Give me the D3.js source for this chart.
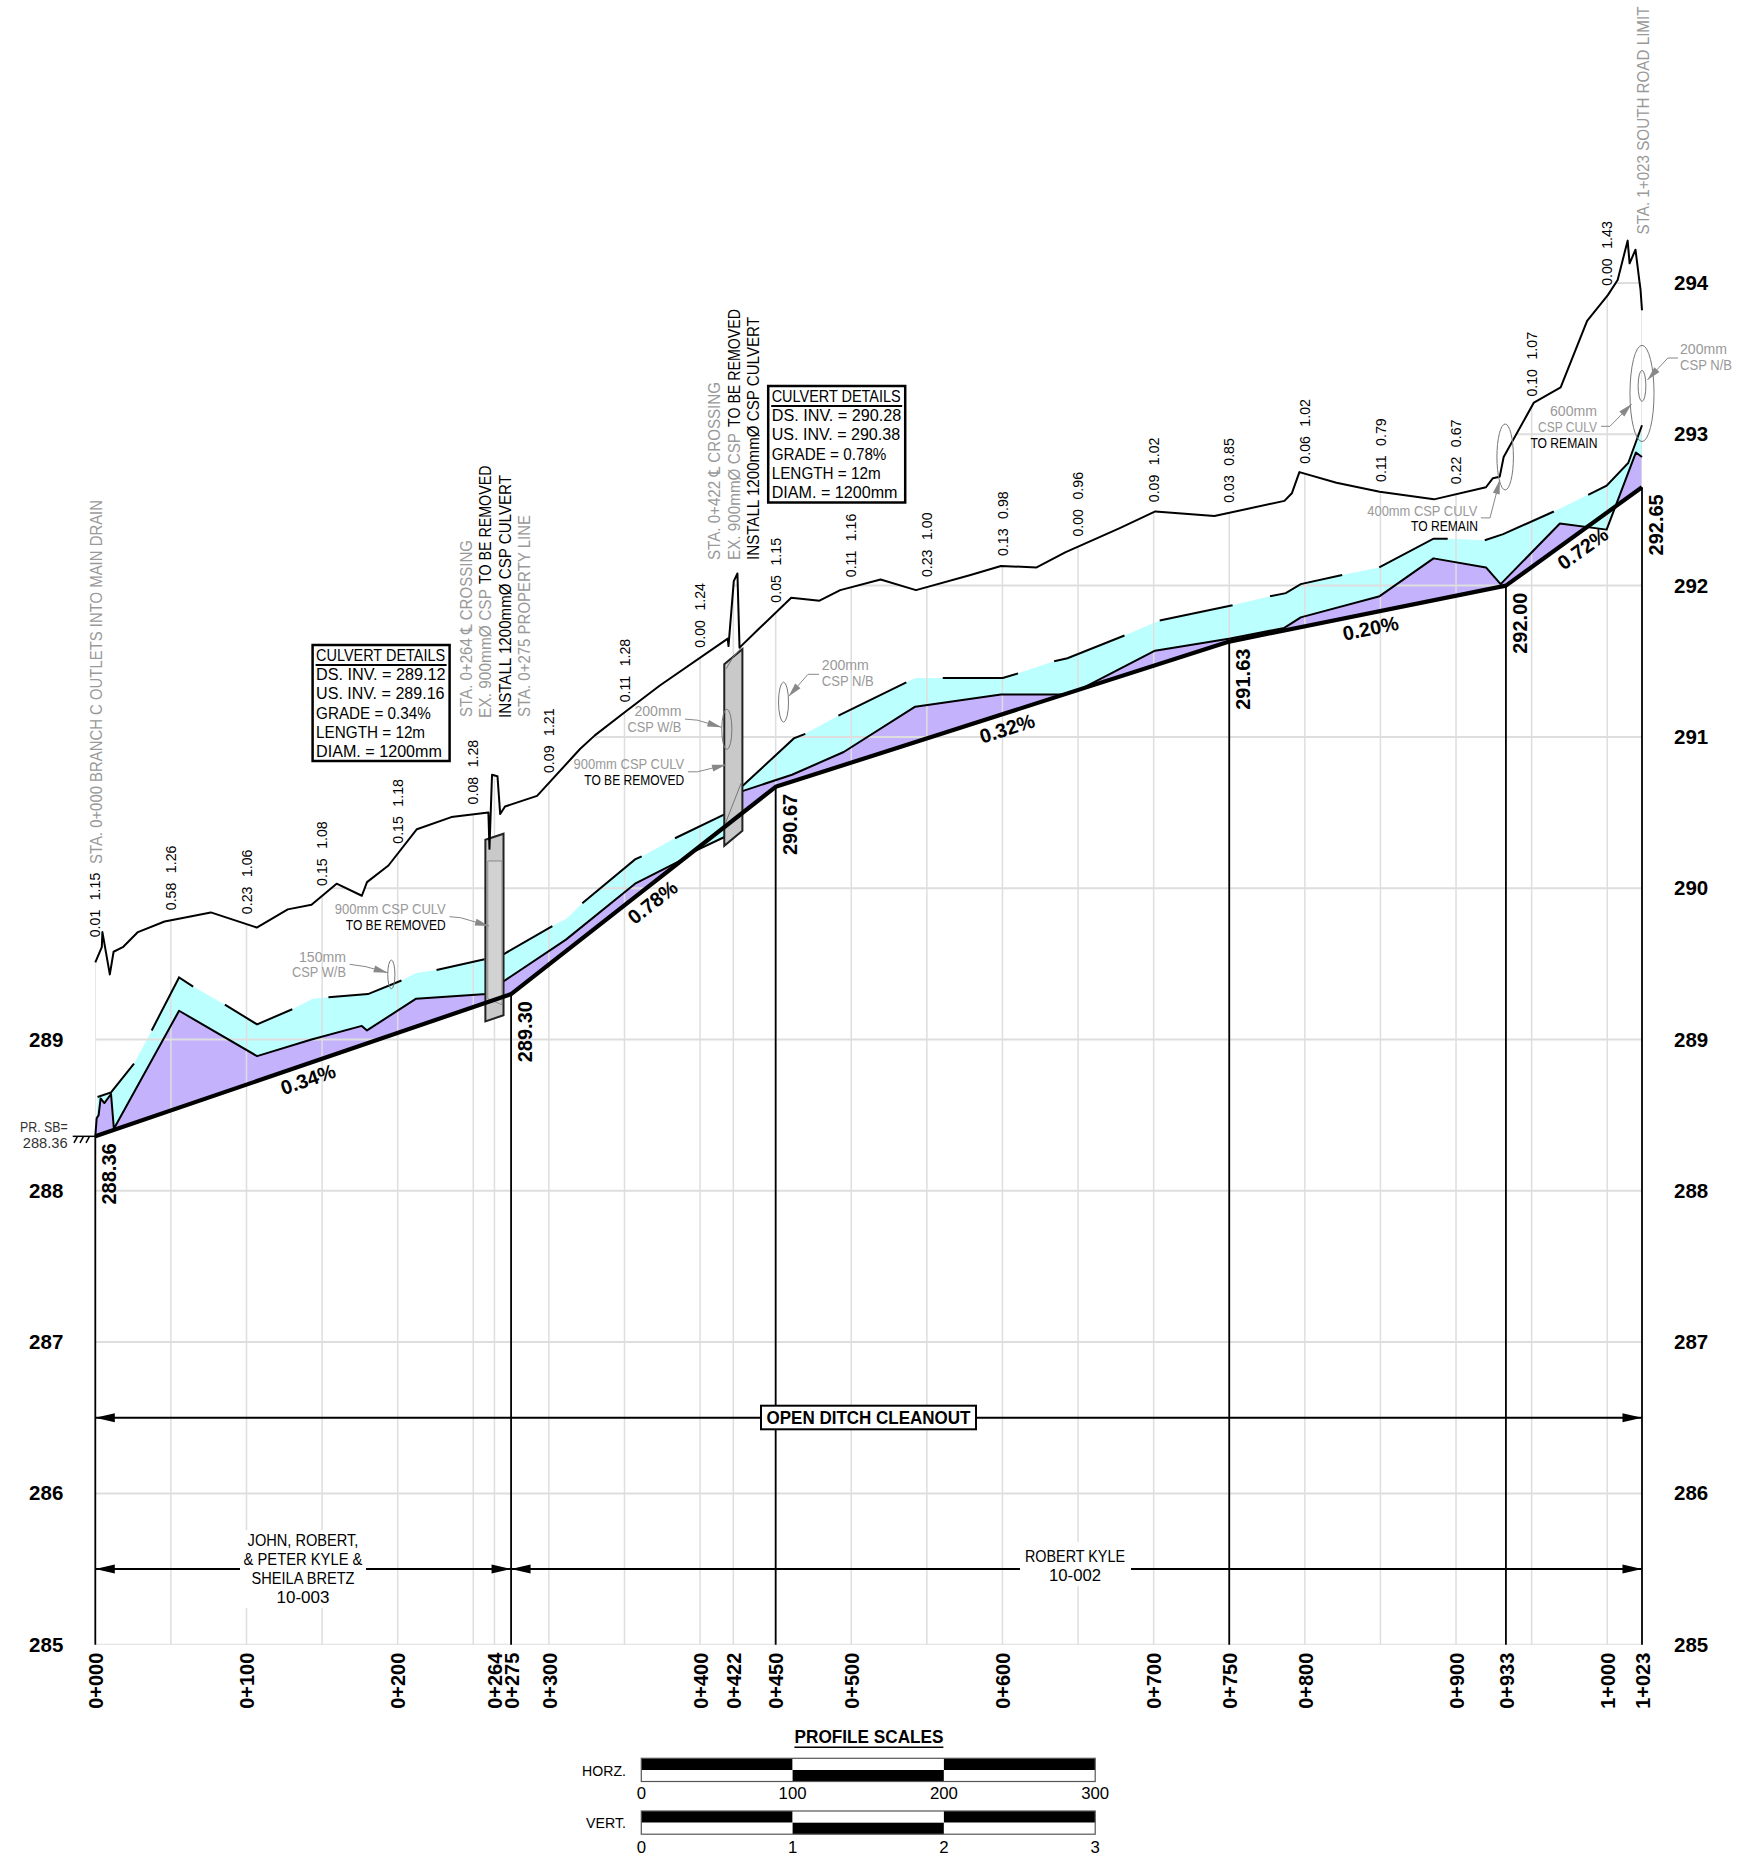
<!doctype html>
<html lang="en">
<head>
  <meta charset="utf-8">
  <title>Open ditch profile</title>
  <style>
  html, body { margin: 0; padding: 0; background: #fff; }
  svg { display: block; }
  text { font-family: "Liberation Sans", "DejaVu Sans", sans-serif; }
  .grid { stroke: #dedede; fill: none; }
  .axis text { font-size: 20.5px; font-weight: bold; fill: #000; }
  </style>
</head>
<body>
  <div id="chart"></div>
  <script src="https://d3js.org/d3.v7.min.js"></script>
  <script>
// all profile data is [station (m), elevation (m)]
var groundPts = [[0,289.51],[4.3,289.61],[4.7,289.71],[9.6,289.43],[12.1,289.58],[18.2,289.61],[28.2,289.71],[45.8,289.78],[56.1,289.80],[76.4,289.84],[106.8,289.74],[127.3,289.86],[143,289.89],[159.6,290.03],[176.3,289.95],[179.7,290.04],[193.9,290.15],[212.7,290.39],[235.5,290.47],[260,290.50],[260.7,290.26],[262.4,290.75],[266,290.74],[267.8,290.49],[271,290.54],[292.2,290.61],[320.6,290.92],[330.4,291.01],[351,291.17],[373.4,291.34],[418.3,291.65],[418.8,291.60],[422.3,292.03],[424.7,292.08],[426.1,291.59],[438.4,291.71],[460.3,291.92],[479,291.90],[492.7,291.97],[519.4,292.04],[542.8,291.97],[578.9,292.07],[599,292.13],[622.6,292.12],[641.5,292.22],[677.6,292.38],[701.1,292.49],[740.2,292.46],[786.5,292.56],[791.4,292.61],[796.4,292.75],[820.9,292.68],[849.5,292.62],[885.4,292.57],[919.8,292.65],[924.4,292.71],[928.9,292.72],[931.5,292.85],[951.5,293.21],[969.2,293.31],[986.7,293.75],[1000.4,293.92],[1006.9,294.02],[1013.5,294.28],[1014.8,294.13],[1018.7,294.22],[1021.3,294.01],[1022,293.96],[1023,293.82]];

// proposed subgrade
var sbPts = [[0,288.36],[275,289.30],[450,290.67],[750,291.63],[933,292.00],[1023,292.65]];
var gradeLabels = ["0.34%","0.78%","0.32%","0.20%","0.72%"];

// existing ditch bottom, top of the purple area
var lowerPts = [[0,288.36],[0.9,288.48],[2.2,288.5],[3.5,288.61],[6,288.58],[10.4,288.64],[12.3,288.41],[55.4,289.19],[107,288.89],[143,289.0],[176.3,289.09],[179.7,289.06],[212.2,289.27],[258.7,289.30],[269.4,289.38],[311.3,289.66],[357,290.03],[386.7,290.18],[393.3,290.23],[416.5,290.34],[427.5,290.64],[460.8,290.75],[495,290.90],[542.3,291.20],[599,291.28],[641.5,291.28],[652.7,291.32],[700.9,291.57],[750.7,291.65],[786.4,291.72],[797.3,291.79],[849.5,291.93],[885.1,292.18],[919.8,292.12],[929.5,292.01],[968.7,292.41],[999.6,292.37],[1019,292.88],[1023,292.85]];

// top of the cyan area, broken into the runs that are actually stroked
var upperRuns = [
  [[0.9,288.48],[1.5,288.62],[10.4,288.65],[25.6,288.84]],
  [[37.3,289.06],[55.4,289.41],[64.7,289.35]],
  [[85.7,289.23],[107,289.10],[130.3,289.20]],
  [[143.8,289.27]],
  [[154.2,289.28],[180.4,289.30],[202.5,289.39]],
  [[212.2,289.44]],
  [[225.7,289.46],[257.5,289.53]],
  [[269.4,289.56],[302.3,289.75]],
  [[311.8,289.80]],
  [[322.1,289.90],[357,290.19],[361.4,290.21]],
  [[383.4,290.33],[416.5,290.49]],
  [[427.5,290.67],[462,290.99],[469.6,291.02]],
  [[491.5,291.14],[536.4,291.36]],
  [[542.3,291.39]],
  [[560.5,291.39],[600.2,291.39],[610.3,291.42]],
  [[634.2,291.50],[643,291.52],[680.7,291.67]],
  [[704,291.77],[752.2,291.87]],
  [[777,291.93],[787.4,291.95],[797.3,292.01],[824.7,292.07]],
  [[849.2,292.12],[885.1,292.31],[894.5,292.31]],
  [[919,292.30],[931.2,292.34],[964.7,292.49]],
  [[987.4,292.60],[999.6,292.66],[1013.9,292.81],[1023,293.06]]
];

// cut depths written above the ground line
var depthSta = [0,50,100,150,200,250,300,350,400,450,500,550,600,650,700,750,800,850,900,950,1000];
var depthLabels = ["0.01 1.15","0.58 1.26","0.23 1.06","0.15 1.08","0.15 1.18","0.08 1.28","0.09 1.21","0.11 1.28","0.00 1.24","0.05 1.15","0.11 1.16","0.23 1.00","0.13 0.98","0.00 0.96","0.09 1.02","0.03 0.85","0.06 1.02","0.11 0.79","0.22 0.67","0.10 1.07","0.00 1.43"];

// culverts: sta, ds inv, us inv, diam
var culvertSta = [264, 422];
var culvertDs = [289.12, 290.28];
var culvertUs = [289.16, 290.38];
var culvertDiam = 1.2;
var culvertLength = 12;

// existing pipes drawn as ellipses: station, centre elevation, drawn size
var pipeSta = [195.8, 417.7, 455.2, 932.5, 1023, 1023];
var pipeElev = [289.43, 291.05, 291.23, 292.85, 293.27, 293.32];
var pipeSize = [0.19, 0.267, 0.264, 0.436, 0.636, 0.205];

var elevTicks = [285,286,287,288,289,290,291,292,293,294];
var elevTicksLeft = [285,286,287,288,289];
var staTicks = [0,100,200,264,275,300,400,422,450,500,600,700,750,800,900,933,1000,1023];
var gridSta = [0,50,100,150,200,250,264,300,350,400,422,450,500,550,600,650,700,750,800,850,900,950,1000,1023];
var horzScale = [0,100,200,300];
var vertScale = [0,1,2,3];

var width = 1737, height = 1854;

var x = d3.scaleLinear().domain([0, 1023]).range([95.3, 1642]);
var y = d3.scaleLinear().domain([285, 294]).range([1644.7, 283]);

var line = d3.line().x(function(d) { return x(d[0]); }).y(function(d) { return y(d[1]); });
var groundAt = d3.scaleLinear().domain(groundPts.map(function(d) { return d[0]; })).range(groundPts.map(function(d) { return d[1]; }));

var svg = d3.select("#chart").append("svg").attr("width", width).attr("height", height);

// grid stops at the ground line
var corners = [[1023, 285], [0, 285]];
svg.append("clipPath").attr("id", "below-ground")
  .append("path").attr("d", line(groundPts.concat(corners)) + "Z");

// fills
svg.append("path").attr("d", line(lowerPts.concat(sbPts.slice().reverse())) + "Z").attr("fill", "#c4b2fc");
var upperAll = d3.merge(upperRuns);
svg.append("path").attr("d", line(upperAll.concat(lowerPts.slice(1).reverse())) + "Z").attr("fill", "#bbffff");

var grid = svg.append("g").attr("clip-path", "url(#below-ground)");
grid.selectAll(".h").data(elevTicks).enter().append("line").attr("class", "grid")
  .attr("x1", x(0)).attr("x2", x(1023)).attr("y1", y).attr("y2", y).attr("stroke-width", 2);
grid.selectAll(".v").data(gridSta).enter().append("line").attr("class", "grid")
  .attr("x1", x).attr("x2", x).attr("y1", y(285)).attr("y2", y(294.5)).attr("stroke-width", 1.5);

// station verticals under the subgrade breaks
svg.selectAll(".sbv").data(sbPts).enter().append("line")
  .attr("x1", function(d) { return x(d[0]); }).attr("x2", function(d) { return x(d[0]); })
  .attr("y1", function(d) { return y(d[1]); }).attr("y2", y(285))
  .attr("stroke", "#000").attr("stroke-width", 1.8);

// existing ditch lines
svg.append("path").attr("d", line(lowerPts)).attr("fill", "none").attr("stroke", "#000").attr("stroke-width", 2).attr("stroke-linejoin", "round");
svg.selectAll(".upper").data(upperRuns.filter(function(r) { return r.length > 1; })).enter().append("path")
  .attr("d", function(r, i) { return line(i === 0 ? r.slice(1) : r); })
  .attr("fill", "none").attr("stroke", "#000").attr("stroke-width", 2);

// culverts
culvertSta.forEach(function(s, i) {
  var s0 = s - culvertLength / 2, s1 = s + culvertLength / 2;
  var pts = [[s0, culvertDs[i]], [s0, culvertDs[i] + culvertDiam], [s1, culvertUs[i] + culvertDiam], [s1, culvertUs[i]]];
  svg.append("path").attr("d", line(pts) + "Z").attr("fill", "#c9c9c9").attr("stroke", "#222").attr("stroke-width", 2);
});
// the old 900mm pipes inside them
svg.append("path").attr("d", line([[259.6,289.27],[259.6,290.18],[269,290.18],[269,289.23]]) + "Z")
  .attr("fill", "#d2d2d2").attr("stroke", "#8a8a8a").attr("stroke-width", 1);
svg.append("path").attr("d", line([[416.8,290.43],[427.4,290.70]])).attr("fill", "none").attr("stroke", "#777").attr("stroke-width", 1);
svg.append("path").attr("d", line([[417.2,291.45],[422,291.53],[427.4,291.59]])).attr("fill", "none").attr("stroke", "#777").attr("stroke-width", 1);

// proposed subgrade and ground
svg.append("path").attr("d", line(sbPts)).attr("fill", "none").attr("stroke", "#000").attr("stroke-width", 4.2).attr("stroke-linejoin", "round");
svg.append("path").attr("d", line(groundPts)).attr("fill", "none").attr("stroke", "#000").attr("stroke-width", 2).attr("stroke-linejoin", "round");

// pipe ellipses
svg.selectAll(".pipe").data(pipeSta).enter().append("ellipse")
  .attr("cx", x)
  .attr("cy", function(d, i) { return y(pipeElev[i]); })
  .attr("ry", function(d, i) { return (y(0) - y(pipeSize[i])) / 2; })
  .attr("rx", function(d, i) { return (y(0) - y(pipeSize[i])) / 8; })
  .attr("fill", "none").attr("stroke", "#777").attr("stroke-width", 1);

// axes, the left one stops where the ground labels take over
var yLeft = d3.axisLeft(y).tickValues(elevTicksLeft).tickSize(0).tickPadding(32).tickFormat(d3.format("d"));
var yRight = d3.axisRight(y).tickValues(elevTicks).tickSize(0).tickPadding(32).tickFormat(d3.format("d"));
var xAxis = d3.axisBottom(x).tickValues(staTicks).tickSize(0).tickFormat(function(v) {
  return Math.floor(v / 1000) + "+" + d3.format("03")(v % 1000);
});
svg.append("g").attr("class", "axis").attr("transform", "translate(" + x(0) + ",0)").call(yLeft).call(function(g) { g.select(".domain").remove(); });
svg.append("g").attr("class", "axis").attr("transform", "translate(" + x(1023) + ",0)").call(yRight).call(function(g) { g.select(".domain").remove(); });
svg.append("g").attr("class", "axis").attr("transform", "translate(0," + y(285) + ")").call(xAxis)
  .call(function(g) { g.select(".domain").remove(); })
  .selectAll("text").attr("transform", "rotate(-90)").attr("x", -8).attr("y", 0).attr("dy", ".36em")
  .attr("text-anchor", "end").style("font-size", "20px");

// helper for every piece of text in the drawing
function note(px, py, str, o) {
  o = o || {};
  var t = svg.append("text").text(str)
    .attr("font-size", o.size || 14)
    .attr("fill", o.fill || "#000")
    .attr("text-anchor", o.anchor || "start");
  if (o.bold) t.attr("font-weight", "bold");
  if (o.len) t.attr("textLength", o.len).attr("lengthAdjust", "spacingAndGlyphs");
  if (o.rot) t.attr("transform", "translate(" + px + "," + py + ") rotate(" + o.rot + ")");
  else t.attr("x", px).attr("y", py);
  return t;
}

// subgrade elevations beside the verticals
sbPts.forEach(function(d) {
  note(x(d[0]) + 21, y(d[1]) + 7, d[1].toFixed(2), { size: 20, bold: true, anchor: "end", rot: -90 });
});

// grade labels sit on the normal of each segment
gradeLabels.forEach(function(g, i) {
  var a = sbPts[i], b = sbPts[i + 1];
  var dx = x(b[0]) - x(a[0]), dy = y(b[1]) - y(a[1]);
  var ang = Math.atan2(dy, dx);
  var mx = (x(a[0]) + x(b[0])) / 2 - Math.sin(ang) * 15;
  var my = (y(a[1]) + y(b[1])) / 2 + Math.cos(ang) * 15;
  note(mx, my, g, { size: 20, bold: true, anchor: "middle", rot: ang * 180 / Math.PI }).attr("dy", ".35em");
});

// depths above the ground
depthSta.forEach(function(s, i) {
  var off = s === 0 ? 25 : 10;
  note(x(s), y(groundAt(s)) - off, depthLabels[i], { size: 14.2, rot: -90 })
    .attr("dy", ".36em").style("word-spacing", "5.5px");
});

// rotated station notes
var grey = "#999";
note(101.7, 864, "STA. 0+000 BRANCH C OUTLETS INTO MAIN DRAIN", { size: 16.5, fill: grey, rot: -90, len: 364 });
note(472, 717, "STA. 0+264 \u2104 CROSSING", { size: 16.5, fill: grey, rot: -90, len: 177 });
note(491, 718, "EX. 900mm\u00d8 CSP", { size: 16.5, fill: grey, rot: -90, len: 129 });
note(491, 584, "TO BE REMOVED", { size: 16.5, rot: -90, len: 118.5 });
note(510.5, 718, "INSTALL 1200mm\u00d8 CSP CULVERT", { size: 16.5, rot: -90, len: 243 });
note(530, 717, "STA. 0+275 PROPERTY LINE", { size: 16.5, fill: grey, rot: -90, len: 202 });
note(720, 560, "STA. 0+422 \u2104 CROSSING", { size: 16.5, fill: grey, rot: -90, len: 178 });
note(739.5, 560, "EX. 900mm\u00d8 CSP", { size: 16.5, fill: grey, rot: -90, len: 127 });
note(739.5, 427, "TO BE REMOVED", { size: 16.5, rot: -90, len: 118 });
note(758.5, 560, "INSTALL 1200mm\u00d8 CSP CULVERT", { size: 16.5, rot: -90, len: 243 });
note(1649, 234.5, "STA. 1+023 SOUTH ROAD LIMIT", { size: 16.5, fill: grey, rot: -90, len: 228 });

// culvert detail boxes
function detailBox(bx, by, bw, bh, lines, lens) {
  svg.append("rect").attr("x", bx).attr("y", by).attr("width", bw).attr("height", bh)
    .attr("fill", "#fff").attr("stroke", "#000").attr("stroke-width", 2.5);
  var rows = [16, 35, 54, 73.7, 92.5, 112];
  lines.forEach(function(l, i) {
    note(bx + 3.5, by + rows[i], l, { size: 16, len: lens[i] });
  });
  svg.append("line").attr("x1", bx + 3).attr("x2", bx + bw - 3).attr("y1", by + 20).attr("y2", by + 20)
    .attr("stroke", "#000").attr("stroke-width", 2);
}
var boxLens = [129, 129.5, 128.4, 114.7, 109, 125.8];
detailBox(312.6, 645, 137, 116, ["CULVERT DETAILS","DS. INV. = " + culvertDs[0],"US. INV. = " + culvertUs[0],"GRADE = 0.34%","LENGTH = " + culvertLength + "m","DIAM. = 1200mm"], boxLens);
detailBox(768.2, 386, 137, 116.5, ["CULVERT DETAILS","DS. INV. = " + culvertDs[1],"US. INV. = " + culvertUs[1],"GRADE = 0.78%","LENGTH = " + culvertLength + "m","DIAM. = 1200mm"], boxLens);

// small leader notes
function leader(pts) {
  svg.append("path").attr("d", d3.line()(pts)).attr("fill", "none").attr("stroke", "#888").attr("stroke-width", 1);
  var a = pts[pts.length - 2], b = pts[pts.length - 1];
  arrowHead(b, a, 14, 3.5, "#888");
}
function arrowHead(tip, from, len, half, col) {
  var ang = Math.atan2(tip[1] - from[1], tip[0] - from[0]);
  var bx = tip[0] - Math.cos(ang) * len, by = tip[1] - Math.sin(ang) * len;
  var nx = -Math.sin(ang) * half, ny = Math.cos(ang) * half;
  svg.append("path").attr("d", d3.line()([tip, [bx + nx, by + ny], [bx - nx, by - ny]]) + "Z").attr("fill", col);
}

note(346, 961.7, "150mm", { fill: grey, anchor: "end", len: 47 });
note(346, 977, "CSP W/B", { fill: grey, anchor: "end", len: 54 });
leader([[349.6,964.3],[366,966.7],[387.7,972.7]]);
note(445.8, 914, "900mm CSP CULV", { fill: grey, anchor: "end", len: 111 });
note(445.8, 930, "TO BE REMOVED", { anchor: "end", len: 100 });
leader([[449.5,916.7],[460.6,917.7],[489,926]]);
note(681.4, 716, "200mm", { fill: grey, anchor: "end", len: 47 });
note(681.4, 732, "CSP W/B", { fill: grey, anchor: "end", len: 54 });
leader([[685,719.1],[697.5,720.2],[721.4,727.2]]);
note(684.3, 769.3, "900mm CSP CULV", { fill: grey, anchor: "end", len: 110.7 });
note(684.3, 784.7, "TO BE REMOVED", { anchor: "end", len: 100 });
leader([[687.9,771.8],[697.5,771.8],[726,764.7]]);
note(821.8, 670.4, "200mm", { fill: grey, len: 47 });
note(821.8, 685.8, "CSP N/B", { fill: grey, len: 52 });
leader([[819,674.3],[808,674.3],[788.6,696.4]]);
note(1477.3, 515.6, "400mm CSP CULV", { fill: grey, anchor: "end", len: 110 });
note(1478, 531.3, "TO REMAIN", { anchor: "end", len: 67 });
leader([[1480.9,517.9],[1490,517.9],[1499.8,480]]);
note(1597, 416, "600mm", { fill: grey, anchor: "end", len: 47 });
note(1597, 432, "CSP CULV", { fill: grey, anchor: "end", len: 59 });
note(1597.4, 448.2, "TO REMAIN", { anchor: "end", len: 67 });
leader([[1601,426.3],[1610,426.3],[1631.6,404]]);
note(1680, 353.6, "200mm", { fill: grey, len: 47 });
note(1680, 369.6, "CSP N/B", { fill: grey, len: 52 });
leader([[1678,358],[1667.8,358],[1647.4,380]]);

// PR. SB callout with hatching
note(67.7, 1131.7, "PR. SB=", { fill: "#333", anchor: "end", len: 47.7 });
note(67.7, 1148.3, sbPts[0][1].toFixed(2), { fill: "#333", anchor: "end", size: 14.7 });
svg.append("line").attr("x1", 72.7).attr("x2", x(0)).attr("y1", y(288.36)).attr("y2", y(288.36)).attr("stroke", "#000").attr("stroke-width", 1.5);
[74, 80, 86].forEach(function(h) {
  svg.append("line").attr("x1", h).attr("x2", h + 3.5).attr("y1", y(288.36) + 6.5).attr("y2", y(288.36)).attr("stroke", "#000").attr("stroke-width", 1.5);
});

// dimension lines
function dimLine(s0, s1, elev) {
  svg.append("line").attr("x1", x(s0)).attr("x2", x(s1)).attr("y1", y(elev)).attr("y2", y(elev)).attr("stroke", "#000").attr("stroke-width", 2);
  arrowHead([x(s0), y(elev)], [x(s0) + 30, y(elev)], 19.5, 4.5, "#000");
  arrowHead([x(s1), y(elev)], [x(s1) - 30, y(elev)], 19.5, 4.5, "#000");
}
dimLine(0, 1023, 286.5);
dimLine(0, 275, 285.5);
dimLine(275, 1023, 285.5);

svg.append("rect").attr("x", 761).attr("y", 1405.7).attr("width", 215).attr("height", 23.6).attr("fill", "#fff").attr("stroke", "#000").attr("stroke-width", 2);
note(868.5, 1424, "OPEN DITCH CLEANOUT", { size: 18.5, bold: true, anchor: "middle", len: 204 });

svg.append("rect").attr("x", 240).attr("y", 1530).attr("width", 126).attr("height", 78).attr("fill", "#fff");
note(303, 1545.7, "JOHN, ROBERT,", { size: 16, anchor: "middle", len: 110.8 });
note(303, 1565, "& PETER KYLE &", { size: 16, anchor: "middle", len: 118.8 });
note(303, 1584, "SHEILA BRETZ", { size: 16, anchor: "middle", len: 103 });
note(303, 1603, "10-003", { size: 16, anchor: "middle", len: 52.8 });

svg.append("rect").attr("x", 1020).attr("y", 1542).attr("width", 111).attr("height", 44).attr("fill", "#fff");
note(1075, 1561.5, "ROBERT KYLE", { size: 16, anchor: "middle", len: 100 });
note(1075, 1580.5, "10-002", { size: 16, anchor: "middle", len: 52 });

// profile scales
note(869, 1743.3, "PROFILE SCALES", { size: 19, bold: true, anchor: "middle", len: 149 });
svg.append("line").attr("x1", 794.4).attr("x2", 943.4).attr("y1", 1747.3).attr("y2", 1747.3).attr("stroke", "#000").attr("stroke-width", 1.5);

function scaleBar(vals, top, labelY, name, nameY, nameLen) {
  var sx = d3.scaleLinear().domain([vals[0], vals[3]]).range([641.3, 1095.2]);
  d3.pairs(vals).forEach(function(p, i) {
    svg.append("rect").attr("x", sx(p[0])).attr("y", top).attr("width", sx(p[1]) - sx(p[0])).attr("height", 11.7).attr("fill", i % 2 ? "#fff" : "#000");
    svg.append("rect").attr("x", sx(p[0])).attr("y", top + 11.7).attr("width", sx(p[1]) - sx(p[0])).attr("height", 11.5).attr("fill", i % 2 ? "#000" : "#fff");
  });
  svg.append("rect").attr("x", sx(vals[0])).attr("y", top).attr("width", sx(vals[3]) - sx(vals[0])).attr("height", 23.2)
    .attr("fill", "none").attr("stroke", "#555").attr("stroke-width", 1.2);
  vals.forEach(function(v) {
    note(sx(v), labelY, v, { size: 16.8, anchor: "middle" });
  });
  note(626, nameY, name, { size: 15.5, anchor: "end", len: nameLen });
}
scaleBar(horzScale, 1758.3, 1799.3, "HORZ.", 1776, 43.9);
scaleBar(vertScale, 1811, 1852.7, "VERT.", 1828.3, 40);
  </script>
</body>
</html>
